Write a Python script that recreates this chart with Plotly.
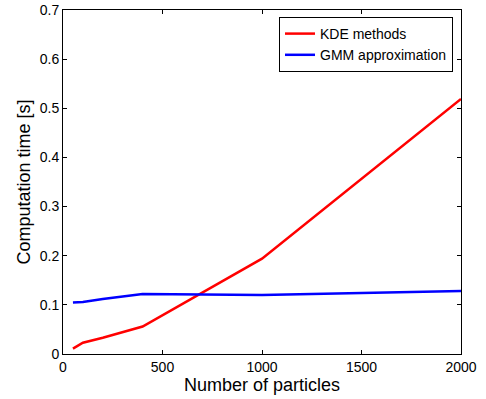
import plotly.graph_objects as go

particles = [50, 100, 200, 400, 1000, 2000]
kde_time = [0.011, 0.023, 0.033, 0.056, 0.194, 0.519]
gmm_time = [0.105, 0.106, 0.112, 0.122, 0.120, 0.128]

x_ticks = [0, 500, 1000, 1500, 2000]
y_ticks = [0, 0.1, 0.2, 0.3, 0.4, 0.5, 0.6, 0.7]
y_labels = ["0", "0.1", "0.2", "0.3", "0.4", "0.5", "0.6", "0.7"]

font = "Liberation Sans, Arial, sans-serif"

fig = go.Figure()
fig.add_trace(go.Scatter(x=particles, y=kde_time, mode="lines", name="KDE methods",
                         line=dict(color="#ff0000", width=2.5)))
fig.add_trace(go.Scatter(x=particles, y=gmm_time, mode="lines", name="GMM approximation",
                         line=dict(color="#0000ff", width=2.5)))

axis_common = dict(showgrid=False, zeroline=False, showline=True, linecolor="black",
                   linewidth=1, mirror="ticks", ticks="inside", ticklen=4,
                   tickcolor="black", automargin=False,
                   tickfont=dict(family=font, size=14, color="black"))

fig.update_layout(
    width=486, height=399,
    margin=dict(l=63, r=25, t=10, b=45),
    paper_bgcolor="white", plot_bgcolor="white",
    font=dict(family=font, color="black"),
    xaxis=dict(range=[0, 2000], tickvals=x_ticks,
               title=dict(text="Number of particles", font=dict(family=font, size=18), standoff=0),
               **axis_common),
    yaxis=dict(range=[0, 0.7], tickvals=y_ticks, ticktext=y_labels,
               title=dict(text="Computation time [s]", font=dict(family=font, size=18), standoff=4),
               **axis_common),
    legend=dict(x=(453 - 63) / 398, y=1 - (17 - 10) / 344, xanchor="right", yanchor="top",
                bgcolor="white", bordercolor="black", borderwidth=1,
                font=dict(family=font, size=14), tracegroupgap=0,
                itemwidth=30),
    showlegend=True,
)

fig.write_html("out.html")
